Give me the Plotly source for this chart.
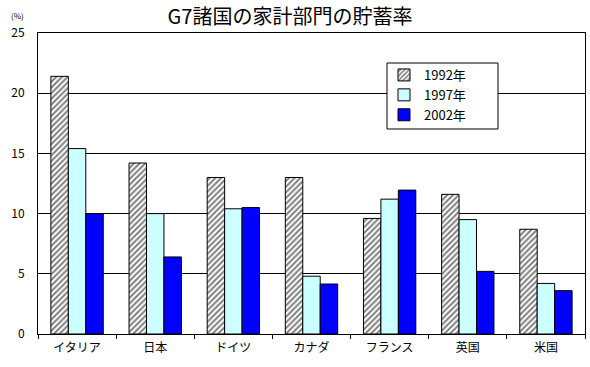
import plotly.graph_objects as go

categories = ["イタリア", "日本", "ドイツ", "カナダ", "フランス", "英国", "米国"]
series_names = ["1992年", "1997年", "2002年"]
v1992 = [21.4, 14.2, 13.0, 13.0, 9.6, 11.6, 8.7]
v1997 = [15.4, 10.0, 10.4, 4.8, 11.2, 9.5, 4.2]
v2002 = [10.0, 6.4, 10.5, 4.15, 11.95, 5.2, 3.6]
y_ticks = [0, 5, 10, 15, 20, 25]

FONT = "Noto Sans CJK JP"
L, R, T, B, W, H = 38, 5, 33, 33, 590, 367
PW, PH = W - L - R, H - T - B


def px_x(x):
    return (x - L) / PW


def px_y(y):
    return (H - B - y) / PH


fig = go.Figure()
fig.add_trace(go.Bar(
    x=categories, y=v1992, name=series_names[0],
    marker=dict(color="white", line=dict(color="black", width=1),
                pattern=dict(shape="/", fgcolor="black", bgcolor="white",
                             size=4, solidity=0.5)),
))
fig.add_trace(go.Bar(
    x=categories, y=v1997, name=series_names[1],
    marker=dict(color="#CCFFFF", line=dict(color="black", width=1)),
))
fig.add_trace(go.Bar(
    x=categories, y=v2002, name=series_names[2],
    marker=dict(color="#0000FF", line=dict(color="black", width=1)),
))

fig.update_layout(
    width=W, height=H,
    margin=dict(l=L, r=R, t=T, b=B),
    paper_bgcolor="white", plot_bgcolor="white",
    barmode="group", bargap=0.33, bargroupgap=0,
    font=dict(family=FONT, size=12, color="black"),
    title=dict(text="G7諸国の家計部門の貯蓄率", x=290 / W, xanchor="center",
               y=1 - 17 / H, yanchor="middle",
               font=dict(family=FONT, size=20, color="black")),
    legend=dict(x=px_x(384), y=px_y(60), xanchor="left", yanchor="top",
                bgcolor="rgba(0,0,0,0)", borderwidth=0,
                font=dict(family=FONT, size=13, color="black"),
                itemwidth=30, tracegroupgap=0),
    xaxis=dict(showline=True, linecolor="black", linewidth=1, mirror=True,
               ticks="outside", tickson="boundaries", ticklen=4,
               tickcolor="black", showgrid=False, ticklabelstandoff=3,
               tickfont=dict(family=FONT, size=12)),
    yaxis=dict(range=[0, 25], tickvals=y_ticks, showline=True,
               linecolor="black", linewidth=1, mirror=True,
               showgrid=True, gridcolor="black", gridwidth=1,
               zeroline=False, ticks="", ticklabelstandoff=10,
               tickfont=dict(family=FONT, size=12)),
    shapes=[dict(type="rect", xref="paper", yref="paper",
                 x0=px_x(387), x1=px_x(498), y0=px_y(129), y1=px_y(63),
                 line=dict(color="black", width=1), fillcolor="white",
                 layer="above")],
    annotations=[dict(text="(%)", xref="paper", yref="paper",
                      x=px_x(17), y=px_y(15), xanchor="center", yanchor="middle",
                      showarrow=False, font=dict(family=FONT, size=8))],
)

fig.write_html("out.html", config={"displayModeBar": False},
               post_script="document.body.style.margin='0';")
